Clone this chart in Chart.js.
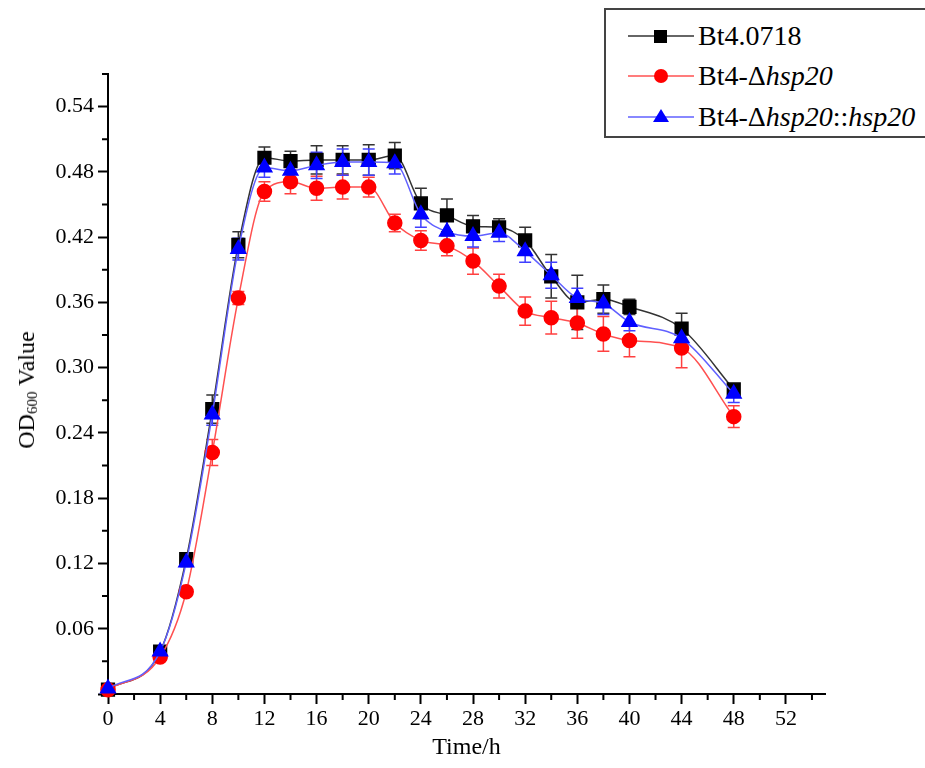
<!DOCTYPE html>
<html>
<head>
<meta charset="utf-8">
<script src="https://cdn.jsdelivr.net/npm/chart.js@4"></script>
<style>
  html, body { margin: 0; padding: 0; background: #fff; overflow: hidden; }
  #wrap { position: relative; width: 925px; height: 768px; }
  #ytitle {
    position: absolute; left: 27px; top: 390px;
    transform: translate(-50%, -50%) rotate(-90deg);
    font: 24px "Liberation Serif", serif; white-space: nowrap; color: #000;
  }
  #ytitle sub { font-size: 15px; vertical-align: -3px; }
  #legend {
    position: absolute; left: 604px; top: 8px; width: 340px; height: 126px;
    border: 2px solid #444; background: #fff;
    font: 28px "Liberation Serif", serif; color: #000;
  }
  .row { position: absolute; left: 0; height: 36px; display: flex; align-items: center; }
  .row svg { margin-left: 22px; margin-right: 4px; }
</style>
</head>
<body>
<div id="wrap">
  <canvas id="chart" width="925" height="768"></canvas>
  <div id="ytitle">OD<sub>600</sub> Value</div>
  <div id="legend">
    <div class="row" style="top:8px">
      <svg width="66" height="20"><line x1="0" y1="10" x2="66" y2="10" stroke="#333" stroke-width="1.5"/><rect x="26" y="4" width="13" height="13" fill="#000"/></svg>
      <span>Bt4.0718</span>
    </div>
    <div class="row" style="top:48px">
      <svg width="66" height="20"><line x1="0" y1="10" x2="66" y2="10" stroke="#ff5050" stroke-width="1.5"/><circle cx="33" cy="10" r="7" fill="#ff0000"/></svg>
      <span>Bt4-Δ<i>hsp20</i></span>
    </div>
    <div class="row" style="top:89px">
      <svg width="66" height="20"><line x1="0" y1="10" x2="66" y2="10" stroke="#6060ff" stroke-width="1.5"/><polygon points="33,2 41,15 25,15" fill="#0000ff"/></svg>
      <span>Bt4-Δ<i>hsp20</i>::<i>hsp20</i></span>
    </div>
  </div>
</div>
<script>
// sampling times (h)
var times = [0, 4, 6, 8, 10, 12, 14, 16, 18, 20, 22, 24, 26, 28, 30, 32, 34, 36, 38, 40, 44, 48];

// OD600 means
var wildType = [0.004, 0.039, 0.124, 0.262, 0.413, 0.493, 0.490, 0.491, 0.491, 0.491, 0.495, 0.451, 0.440, 0.430, 0.429, 0.417, 0.384, 0.360, 0.363, 0.356, 0.336, 0.280];
var mutant = [0.004, 0.034, 0.094, 0.222, 0.364, 0.462, 0.471, 0.465, 0.466, 0.466, 0.433, 0.417, 0.412, 0.398, 0.375, 0.352, 0.346, 0.341, 0.331, 0.325, 0.318, 0.255];
var complemented = [0.005, 0.039, 0.121, 0.257, 0.409, 0.484, 0.481, 0.486, 0.489, 0.489, 0.488, 0.441, 0.425, 0.421, 0.424, 0.407, 0.385, 0.364, 0.359, 0.342, 0.327, 0.276];

// error bar half-lengths
var wildTypeErr = [0.002, 0.003, 0.004, 0.013, 0.012, 0.010, 0.009, 0.013, 0.013, 0.014, 0.012, 0.014, 0.015, 0.010, 0.008, 0.012, 0.020, 0.025, 0.013, 0.007, 0.014, 0.004];
var mutantErr = [0.002, 0.003, 0.004, 0.012, 0.006, 0.009, 0.011, 0.011, 0.011, 0.009, 0.008, 0.009, 0.009, 0.012, 0.011, 0.013, 0.015, 0.014, 0.016, 0.015, 0.018, 0.010];
var complementedErr = [0.002, 0.003, 0.004, 0.010, 0.010, 0.009, 0.010, 0.012, 0.012, 0.012, 0.010, 0.012, 0.010, 0.010, 0.008, 0.010, 0.012, 0.009, 0.010, 0.008, 0.012, 0.008];

var seriesNames = ["Bt4.0718", "Bt4-Δhsp20", "Bt4-Δhsp20::hsp20"];

function toPoints(values) {
    return times.map(function(t, i) { return { x: t, y: values[i] }; });
}

// error bars, drawn under the markers
var errorBars = {
    id: "errorBars",
    beforeDatasetsDraw: function(chart) {
        var ctx = chart.ctx;
        var xs = chart.scales.x, ys = chart.scales.y;
        chart.data.datasets.forEach(function(ds) {
            ctx.save();
            ctx.strokeStyle = ds.errColor;
            ctx.lineWidth = 1.5;
            ds.data.forEach(function(p, i) {
                var e = ds.errors[i];
                var px = xs.getPixelForValue(p.x);
                var top = ys.getPixelForValue(p.y + e);
                var bot = ys.getPixelForValue(p.y - e);
                ctx.beginPath();
                ctx.moveTo(px, top); ctx.lineTo(px, bot);
                ctx.moveTo(px - 6, top); ctx.lineTo(px + 6, top);
                ctx.moveTo(px - 6, bot); ctx.lineTo(px + 6, bot);
                ctx.stroke();
            });
            ctx.restore();
        });
    }
};

// short minor ticks between the labelled ones
var minorTicks = {
    id: "minorTicks",
    afterDraw: function(chart) {
        var ctx = chart.ctx;
        var xs = chart.scales.x, ys = chart.scales.y;
        ctx.save();
        ctx.strokeStyle = "#000";
        ctx.lineWidth = 2;
        ctx.beginPath();
        for (var t = 2; t <= 54; t += 4) {
            var px = xs.getPixelForValue(t);
            ctx.moveTo(px, ys.bottom); ctx.lineTo(px, ys.bottom + 6);
        }
        for (var k = 1; k <= 19; k += 2) {
            var py = ys.getPixelForValue(k * 0.03);
            ctx.moveTo(xs.left, py); ctx.lineTo(xs.left - 6, py);
        }
        ctx.stroke();
        ctx.restore();
    }
};

var tickFont = { family: "'Liberation Serif', serif", size: 22 };

var ctx = document.getElementById("chart").getContext("2d");
var growthChart = new Chart(ctx, {
    type: "line",
    data: {
        datasets: [
            {
                label: seriesNames[0],
                data: toPoints(wildType),
                errors: wildTypeErr,
                errColor: "#333",
                order: 2,
                borderColor: "#333",
                borderWidth: 1.5,
                backgroundColor: "#000",
                pointBackgroundColor: "#000",
                pointBorderColor: "#000",
                pointStyle: "rect",
                pointRadius: 9,
                cubicInterpolationMode: "monotone",
                clip: false
            },
            {
                label: seriesNames[1],
                data: toPoints(mutant),
                errors: mutantErr,
                errColor: "#ff4040",
                order: 1,
                borderColor: "#ff5050",
                borderWidth: 1.5,
                backgroundColor: "#ff0000",
                pointBackgroundColor: "#ff0000",
                pointBorderColor: "#ff0000",
                pointStyle: "circle",
                pointRadius: 7,
                cubicInterpolationMode: "monotone",
                clip: false
            },
            {
                label: seriesNames[2],
                data: toPoints(complemented),
                errors: complementedErr,
                errColor: "#4040ff",
                order: 0,
                borderColor: "#6060ff",
                borderWidth: 1.5,
                backgroundColor: "#0000ff",
                pointBackgroundColor: "#0000ff",
                pointBorderColor: "#0000ff",
                pointStyle: "triangle",
                pointRadius: 8.5,
                cubicInterpolationMode: "monotone",
                clip: false
            }
        ]
    },
    options: {
        responsive: false,
        animation: false,
        devicePixelRatio: 1,
        layout: { padding: { left: 0, top: 74, right: 100, bottom: 0 } },
        plugins: {
            legend: { display: false },
            title: { display: false },
            tooltip: { enabled: false }
        },
        scales: {
            x: {
                type: "linear",
                min: 0,
                max: 55,
                afterFit: function(scale) { scale.height = 74; },
                border: { color: "#000", width: 2 },
                grid: { drawOnChartArea: false, drawTicks: true, tickLength: 10, tickColor: "#000", tickWidth: 2 },
                ticks: {
                    stepSize: 4,
                    includeBounds: false,
                    maxRotation: 0,
                    autoSkip: false,
                    padding: 2,
                    color: "#000",
                    font: tickFont
                },
                title: {
                    display: true,
                    text: "Time/h",
                    color: "#000",
                    font: { family: "'Liberation Serif', serif", size: 24 },
                    padding: { top: 0, bottom: 6 }
                }
            },
            y: {
                min: 0,
                max: 0.57,
                afterFit: function(scale) { scale.width = 108; },
                border: { color: "#000", width: 2 },
                grid: { drawOnChartArea: false, drawTicks: true, tickLength: 10, tickColor: "#000", tickWidth: 2 },
                ticks: {
                    stepSize: 0.06,
                    includeBounds: false,
                    padding: 4,
                    color: "#000",
                    font: tickFont,
                    callback: function(v) { return v === 0 ? "" : v.toFixed(2); }
                }
            }
        }
    },
    plugins: [errorBars, minorTicks]
});
</script>
</body>
</html>
